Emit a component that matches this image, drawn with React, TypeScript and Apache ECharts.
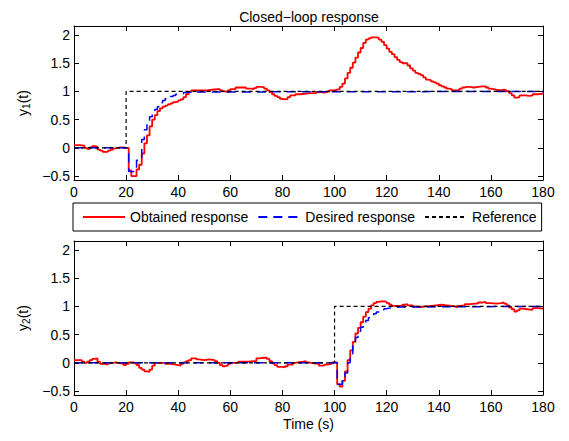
import React, { useEffect, useRef } from "react";
import * as echarts from "echarts";

const xTicks = [0, 20, 40, 60, 80, 100, 120, 140, 160, 180];
const yTicks = [-0.5, 0, 0.5, 1, 1.5, 2];
const seriesNames = ["Obtained response", "Desired response", "Reference"];

// Subplot 1 (y1)
const obtained1: [number, number][] = [
  [0, 0.05], [2, 0.04], [4, 0.0], [5, -0.02], [6, 0.01], [7, 0.03], [8, 0.02], [9, -0.03],
  [10, -0.05], [11, -0.07], [12, -0.07], [13, -0.05], [14, -0.03], [15, -0.01], [16, 0.0],
  [17, 0.01], [18, 0.01], [19, 0.0], [20, 0.0], [21, -0.4], [22, -0.5], [23, -0.5], [24, -0.38],
  [25, -0.3], [26, -0.1], [27, 0.08], [28, 0.22], [29, 0.38], [30, 0.5], [31, 0.58], [32, 0.65],
  [33, 0.7], [34, 0.73], [35, 0.75], [36, 0.77], [37, 0.79], [38, 0.81], [39, 0.82], [40, 0.84],
  [41, 0.86], [42, 0.9], [43, 0.95], [44, 0.99], [45, 1.02], [47, 1.02], [49, 1.02], [51, 1.03],
  [53, 1.04], [55, 1.04], [56, 1.02], [57, 1.0], [58, 0.99], [59, 1.02], [60, 1.04], [62, 1.07],
  [64, 1.07], [66, 1.05], [68, 1.04], [69, 1.06], [70, 1.08], [72, 1.07], [73, 1.05], [74, 1.02],
  [75, 0.99], [76, 0.95], [77, 0.92], [78, 0.9], [79, 0.87], [80, 0.86], [81, 0.87], [82, 0.9],
  [83, 0.93], [85, 0.95], [87, 0.96], [89, 0.97], [91, 0.97], [93, 0.99], [95, 0.98], [96, 0.99],
  [97, 1.0], [98, 1.02], [100, 1.03], [101, 1.04], [102, 1.08], [103, 1.14], [104, 1.23],
  [105, 1.33], [106, 1.42], [107, 1.51], [108, 1.6], [109, 1.69], [110, 1.77], [111, 1.86],
  [112, 1.92], [113, 1.94], [114, 1.96], [115, 1.96], [116, 1.95], [117, 1.92], [118, 1.88],
  [119, 1.82], [120, 1.76], [121, 1.7], [122, 1.66], [123, 1.61], [124, 1.56], [125, 1.52],
  [126, 1.5], [127, 1.5], [128, 1.46], [129, 1.41], [130, 1.37], [131, 1.33], [132, 1.31],
  [133, 1.29], [134, 1.25], [135, 1.21], [136, 1.2], [137, 1.18], [138, 1.16], [139, 1.14],
  [140, 1.11], [141, 1.09], [142, 1.07], [143, 1.05], [144, 1.04], [145, 1.02], [146, 1.02],
  [147, 1.03], [148, 1.05], [149, 1.07], [150, 1.08], [151, 1.08], [152, 1.07], [153, 1.07],
  [154, 1.08], [155, 1.09], [157, 1.09], [158, 1.07], [159, 1.05], [160, 1.04], [161, 1.03],
  [162, 1.02], [164, 1.03], [165, 1.02], [166, 1.0], [167, 0.97], [168, 0.93], [169, 0.89],
  [170, 0.9], [171, 0.93], [172, 0.93], [173, 0.92], [175, 0.93], [176, 0.95], [178, 0.96],
  [180, 0.98],
];
const desired1: [number, number][] = [
  [0, 0], [21, -0.42], [23, -0.36], [24, -0.22], [25, -0.2], [26, 0.15], [27, 0.32], [28, 0.45],
  [29, 0.55], [30, 0.62], [31, 0.68], [32, 0.73], [33, 0.8], [34, 0.84], [35, 0.87], [36, 0.89],
  [37, 0.91], [38, 0.93], [39, 0.95], [40, 0.96], [42, 0.98], [44, 0.99], [46, 1.0], [180, 1.0],
];
const reference1: [number, number][] = [[0, 0], [20, 1], [180, 1]];

// Subplot 2 (y2)
const obtained2: [number, number][] = [
  [0, 0.05], [2, 0.05], [3, 0.02], [4, 0.0], [5, 0.02], [6, 0.05], [7, 0.07], [8, 0.08], [9, 0.02],
  [10, -0.02], [12, -0.03], [13, -0.01], [14, 0.0], [15, 0.01], [16, 0.0], [17, -0.01], [18, -0.02],
  [19, -0.04], [20, -0.02], [21, 0.01], [22, 0.01], [23, -0.01], [24, -0.04], [25, -0.09],
  [26, -0.12], [27, -0.15], [28, -0.16], [29, -0.12], [30, -0.05], [31, 0.0], [33, 0.0],
  [35, -0.02], [37, -0.03], [39, -0.04], [40, -0.05], [41, -0.02], [42, 0.01], [43, 0.03],
  [44, 0.05], [45, 0.08], [46, 0.08], [47, 0.06], [48, 0.05], [50, 0.06], [52, 0.05], [54, 0.03],
  [55, 0.0], [56, -0.04], [57, -0.06], [58, -0.05], [59, -0.02], [60, 0.0], [62, 0.0], [63, 0.02],
  [65, 0.02], [67, 0.03], [69, 0.03], [70, 0.08], [71, 0.09], [73, 0.09], [74, 0.07], [75, 0.03],
  [76, -0.01], [77, -0.04], [78, -0.07], [80, -0.08], [81, -0.06], [82, -0.03], [84, 0.0],
  [85, 0.01], [86, 0.02], [88, 0.03], [89, 0.01], [90, 0.0], [91, -0.01], [92, -0.02], [94, -0.05],
  [96, -0.03], [97, -0.02], [99, 0.01], [100, 0.01], [101, -0.38], [102, -0.42], [103, -0.32],
  [104, -0.15], [105, 0.05], [106, 0.22], [107, 0.37], [108, 0.52], [109, 0.62], [110, 0.72],
  [111, 0.82], [112, 0.9], [113, 0.96], [114, 1.02], [115, 1.06], [116, 1.08], [117, 1.09],
  [118, 1.09], [119, 1.08], [120, 1.06], [121, 1.03], [122, 1.01], [124, 1.01], [126, 1.03],
  [127, 1.04], [128, 1.02], [130, 1.0], [131, 0.99], [133, 1.0], [135, 1.01], [137, 1.02],
  [139, 1.03], [141, 1.02], [143, 1.01], [145, 1.0], [146, 0.99], [147, 1.01], [148, 1.02],
  [150, 1.04], [152, 1.05], [154, 1.05], [155, 1.07], [157, 1.08], [158, 1.06], [160, 1.05],
  [162, 1.06], [164, 1.07], [165, 1.05], [166, 1.02], [167, 0.98], [168, 0.95], [169, 0.91],
  [170, 0.93], [171, 0.96], [172, 0.95], [174, 0.94], [176, 0.97], [178, 0.96], [180, 0.95],
];
const desired2: [number, number][] = [
  [0, 0], [101, -0.38], [103, -0.3], [104, -0.18], [105, 0.0], [106, 0.16], [107, 0.32],
  [108, 0.45], [109, 0.56], [110, 0.63], [111, 0.7], [112, 0.75], [113, 0.8], [114, 0.84],
  [115, 0.87], [116, 0.9], [117, 0.92], [118, 0.94], [119, 0.96], [120, 0.97], [121, 0.98],
  [123, 0.99], [125, 1.0], [180, 1.0],
];
const reference2: [number, number][] = [[0, 0], [100, 1], [180, 1]];

const FONT = "'Liberation Sans', Arial, Helvetica, sans-serif";
const Y_MIN = -0.57;
const Y_MAX = 2.16;

function fmtY(v: number) {
  return String(v).replace("-", "\u2212");
}

export default function App() {
  const ref = useRef<HTMLDivElement>(null);
  useEffect(() => {
    document.body.style.margin = "0";
    const chart = echarts.init(ref.current!, null, { renderer: "svg" });

    const grids = [
      { left: 74, top: 26, width: 469, height: 154 },
      { left: 74, top: 241, width: 469, height: 154 },
    ];

    const axisLine = { show: true, onZero: false, lineStyle: { color: "#000", width: 1 } };
    const tick = { show: true, inside: true, length: 5, lineStyle: { color: "#000" } };

    const xAxes: any[] = [];
    const yAxes: any[] = [];
    [0, 1].forEach((g) => {
      xAxes.push({
        type: "value", gridIndex: g, position: "bottom", min: xTicks[0], max: xTicks[xTicks.length - 1], interval: 20,
        axisLine, axisTick: tick, splitLine: { show: false },
        axisLabel: { show: true, color: "#000", fontSize: 14, fontFamily: FONT, margin: 5 },
        name: g === 1 ? "Time (s)" : "",
        nameLocation: "middle", nameGap: 22,
        nameTextStyle: { color: "#000", fontSize: 14, fontFamily: FONT },
      });
      xAxes.push({
        type: "value", gridIndex: g, position: "top", min: xTicks[0], max: xTicks[xTicks.length - 1], interval: 20,
        axisLine, axisTick: tick, splitLine: { show: false }, axisLabel: { show: false },
      });
      const sub = g === 0 ? "1" : "2";
      yAxes.push({
        type: "value", gridIndex: g, position: "left", min: Y_MIN, max: Y_MAX,
        axisLine, splitLine: { show: false },
        axisTick: { ...tick, customValues: yTicks },
        axisLabel: {
          show: true, color: "#000", fontSize: 14, fontFamily: FONT, margin: 4,
          customValues: yTicks, formatter: (v: number) => fmtY(v),
        },
        name: `{v|y}{s|${sub}}{v|(t)}`,
        nameLocation: "middle", nameRotate: 90, nameGap: 42,
        nameTextStyle: {
          color: "#000", fontFamily: FONT,
          rich: {
            v: { fontSize: 14, fontFamily: FONT, color: "#000" },
            s: { fontSize: 10, fontFamily: FONT, color: "#000", padding: [7, 0, 0, 0] },
          },
        },
      });
      yAxes.push({
        type: "value", gridIndex: g, position: "right", min: Y_MIN, max: Y_MAX,
        axisLine, splitLine: { show: false },
        axisTick: { ...tick, customValues: yTicks },
        axisLabel: { show: false },
      });
    });

    const mk = (name: string, data: [number, number][], g: number, color: string, width: number, type: any) => ({
      name, type: "line", data, step: "end", symbol: "none",
      xAxisIndex: g * 2, yAxisIndex: g * 2,
      lineStyle: { color, width, type },
      itemStyle: { color },
      silent: true,
    });

    const series = [
      mk(seriesNames[0], obtained1, 0, "#ff0000", 1.8, "solid"),
      mk(seriesNames[1], desired1, 0, "#0000ff", 1.5, [9, 6]),
      mk(seriesNames[2], reference1, 0, "#000000", 1.2, [4, 3]),
      mk(seriesNames[0], obtained2, 1, "#ff0000", 1.8, "solid"),
      mk(seriesNames[1], desired2, 1, "#0000ff", 1.5, [9, 6]),
      mk(seriesNames[2], reference2, 1, "#000000", 1.2, [4, 3]),
    ];

    chart.setOption({
      animation: false,
      backgroundColor: "#fff",
      textStyle: { fontFamily: FONT },
      title: {
        text: "Closed\u2212loop response",
        left: 304, top: 5, textAlign: "center",
        textStyle: { fontSize: 14, fontWeight: "normal", color: "#000", fontFamily: FONT },
      },
      legend: {
        data: seriesNames,
        left: 73, top: 203,
        orient: "horizontal",
        padding: [7, 5, 7, 9],
        itemGap: 9, itemWidth: 42, itemHeight: 14,
        borderColor: "#000", borderWidth: 1,
        backgroundColor: "#fff",
        selectedMode: false,
        itemStyle: { opacity: 0, color: "rgba(0,0,0,0)", borderColor: "rgba(0,0,0,0)", borderWidth: 0 },
        textStyle: { fontSize: 14, color: "#000", fontFamily: FONT },
      },
      grid: grids,
      xAxis: xAxes,
      yAxis: yAxes,
      series,
    });
    return () => chart.dispose();
  }, []);
  return <div ref={ref} style={{ width: 569, height: 441 }} />;
}
